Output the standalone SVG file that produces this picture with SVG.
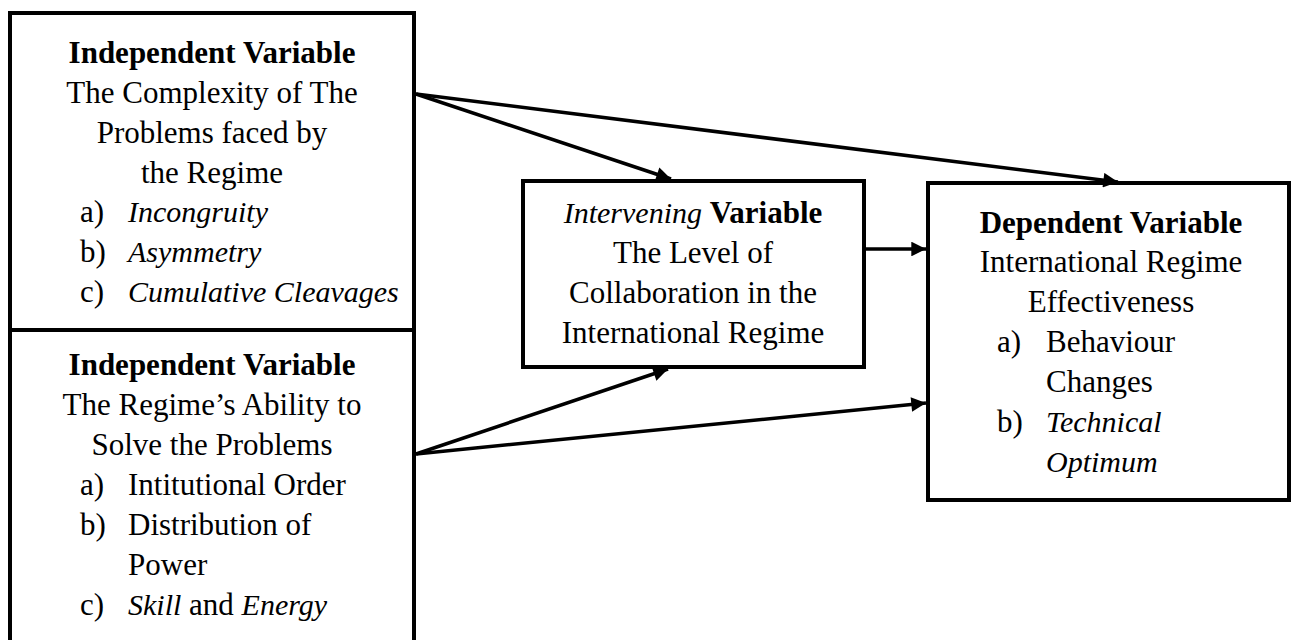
<svg xmlns="http://www.w3.org/2000/svg" width="1292" height="640" viewBox="0 0 1292 640">
<style>
.box{fill:#fff;stroke:#000;stroke-width:4}
text{font-family:"Liberation Serif","Times New Roman",serif;font-size:31px;fill:#000}
.c{text-anchor:middle}
.b{font-weight:bold}
.i{font-style:italic;font-size:30px}
.conn{stroke:#000;stroke-width:3.5;fill:none}
</style>
<defs>
<marker id="ah" viewBox="0 0 10 10" refX="10" refY="5" markerWidth="5.2" markerHeight="4.2" markerUnits="strokeWidth" orient="auto">
<path d="M0,0 L10,5 L0,10 z" fill="#000"/>
</marker>
</defs>
<rect x="0" y="0" width="1292" height="640" fill="#fff"/>
<g id="iv1">
<rect class="box" x="10" y="13" width="404" height="317"/>
<text class="c b" x="212" y="63">Independent Variable</text>
<text class="c" x="212" y="103">The Complexity of The</text>
<text class="c" x="212" y="143">Problems faced by</text>
<text class="c" x="212" y="183">the Regime</text>
<text x="80" y="222">a)</text><text class="i" x="128" y="222">Incongruity</text>
<text x="80" y="262">b)</text><text class="i" x="128" y="262">Asymmetry</text>
<text x="80" y="302">c)</text><text class="i" x="128" y="302">Cumulative Cleavages</text>
</g>
<g id="iv2">
<rect class="box" x="10" y="330" width="404" height="340"/>
<text class="c b" x="212" y="375">Independent Variable</text>
<text class="c" x="212" y="415">The Regime’s Ability to</text>
<text class="c" x="212" y="455">Solve the Problems</text>
<text x="80" y="495">a)</text><text x="128" y="495">Intitutional Order</text>
<text x="80" y="535">b)</text><text x="128" y="535">Distribution of</text>
<text x="128" y="575">Power</text>
<text x="80" y="615">c)</text><text x="128" y="615"><tspan class="i">Skill</tspan> and <tspan class="i">Energy</tspan></text>
</g>
<g id="intervening">
<rect class="box" x="523" y="181" width="341" height="186"/>
<text class="c" x="693" y="223"><tspan class="i">Intervening</tspan> <tspan class="b">Variable</tspan></text>
<text class="c" x="693" y="263">The Level of</text>
<text class="c" x="693" y="303">Collaboration in the</text>
<text class="c" x="693" y="343">International Regime</text>
</g>
<g id="dependent">
<rect class="box" x="928" y="183" width="361" height="317"/>
<text class="c b" x="1111" y="233">Dependent Variable</text>
<text class="c" x="1111" y="272">International Regime</text>
<text class="c" x="1111" y="312">Effectiveness</text>
<text x="997" y="352">a)</text><text x="1046" y="352">Behaviour</text>
<text x="1046" y="392">Changes</text>
<text x="997" y="432">b)</text><text class="i" x="1046" y="432">Technical</text>
<text class="i" x="1046" y="472">Optimum</text>
</g>
<g id="connectors">
<line class="conn" x1="416" y1="94" x2="671" y2="179" marker-end="url(#ah)"/>
<line class="conn" x1="416" y1="94" x2="1118" y2="182" marker-end="url(#ah)"/>
<line class="conn" x1="864" y1="249" x2="926" y2="249" marker-end="url(#ah)"/>
<line class="conn" x1="416" y1="454" x2="668" y2="369" marker-end="url(#ah)"/>
<line class="conn" x1="416" y1="454" x2="926" y2="403" marker-end="url(#ah)"/>
</g>
</svg>
